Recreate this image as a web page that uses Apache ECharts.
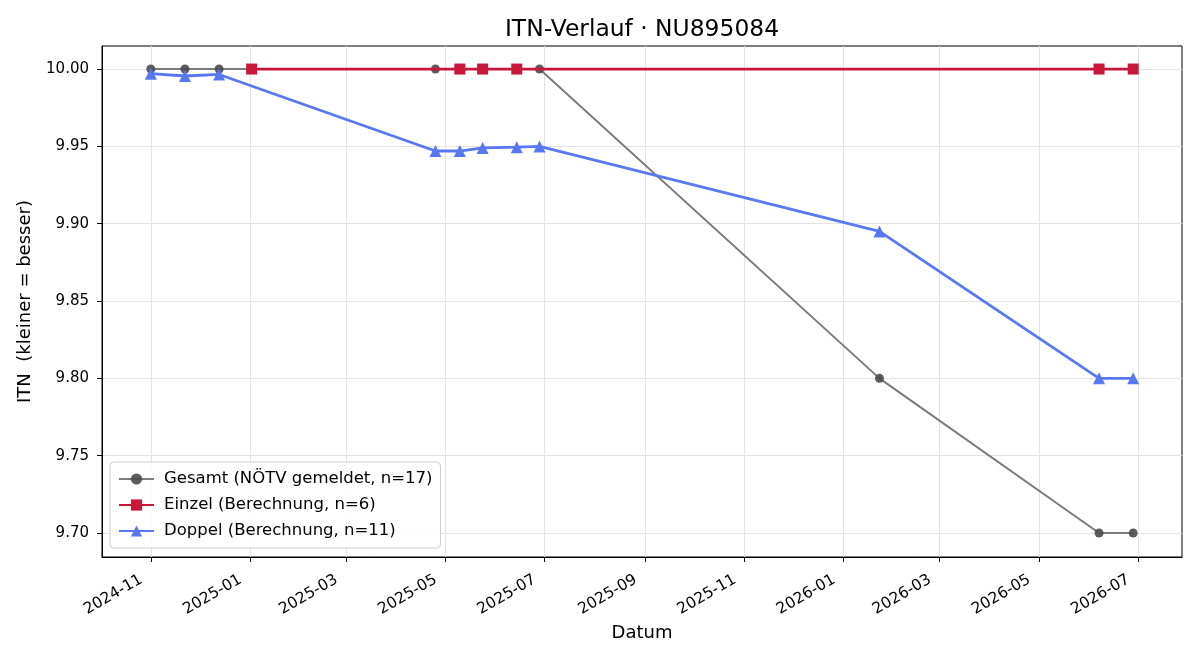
<!DOCTYPE html>
<html>
<head>
<meta charset="utf-8">
<script src="https://cdn.jsdelivr.net/npm/echarts@6/dist/echarts.min.js"></script>
<style>html,body{margin:0;padding:0;background:#fff}#c{width:1200px;height:660px}</style>
</head>
<body>
<div id="c"></div>
<script>
const gesamtDates = ['2024-11-01','2024-11-22','2024-12-13','2025-01-02','2025-04-25','2025-05-10','2025-05-24','2025-06-14','2025-06-28','2026-01-23','2026-06-07','2026-06-28'];
const gesamtValues = [10.00,10.00,10.00,10.00,10.00,10.00,10.00,10.00,10.00,9.80,9.70,9.70];
const einzelDates = ['2025-01-02','2025-05-10','2025-05-24','2025-06-14','2026-06-07','2026-06-28'];
const einzelValues = [10.00,10.00,10.00,10.00,10.00,10.00];
const doppelDates = ['2024-11-01','2024-11-22','2024-12-13','2025-04-25','2025-05-10','2025-05-24','2025-06-14','2025-06-28','2026-01-23','2026-06-07','2026-06-28'];
const doppelValues = [9.997,9.9955,9.9965,9.947,9.947,9.949,9.9495,9.950,9.895,9.800,9.800];
const xTickLabels = ['2024-11','2025-01','2025-03','2025-05','2025-07','2025-09','2025-11','2026-01','2026-03','2026-05','2026-07'];
const yTickLabels = [9.70,9.75,9.80,9.85,9.90,9.95,10.00];
const seriesNames = ['Gesamt (NÖTV gemeldet, n=17)','Einzel (Berechnung, n=6)','Doppel (Berechnung, n=11)'];

const DAY = 86400000;
function ts(s){const p=s.split('-').map(Number);return Date.UTC(p[0],p[1]-1,p[2]||1)/DAY;}
function lab(v){const d=new Date(Math.round(v)*DAY);return d.getUTCFullYear()+'-'+String(d.getUTCMonth()+1).padStart(2,'0');}
const pairs=(d,v)=>d.map((x,i)=>[ts(x),v[i]]);
const xTicks = xTickLabels.map(ts);

const chart = echarts.init(document.getElementById('c'), null, {renderer:'canvas'});
const font = 'DejaVu Sans';
chart.setOption({
  animation:false,
  textStyle:{fontFamily:font},
  title:{text:'ITN-Verlauf · NU895084',left:637,textAlign:'center',top:13,textStyle:{fontFamily:font,fontSize:23.4,fontWeight:'normal',color:'#000'}},
  grid:{left:102,right:18,top:46,bottom:103,show:true,borderColor:'#000',borderWidth:1,backgroundColor:'transparent'},
  legend:{
    orient:'vertical',left:110,top:462,
    backgroundColor:'rgba(255,255,255,0.85)',borderColor:'#cccccc',borderWidth:1,borderRadius:4,
    padding:[8,8,8,8],itemGap:8,itemWidth:35,itemHeight:14,
    textStyle:{fontFamily:font,fontSize:16.5,lineHeight:18,color:'#000',padding:[0,0,0,5]},
    data:seriesNames
  },
  xAxis:{
    type:'value',min:ts('2024-10-02'),max:ts('2026-07-28'),
    name:'Datum',nameLocation:'middle',nameGap:67,nameTextStyle:{fontFamily:font,fontSize:18,color:'#000'},
    axisLine:{show:true,onZero:false,lineStyle:{color:'#000',width:1}},
    axisTick:{show:true,length:5,lineStyle:{color:'#000'},customValues:xTicks},
    axisLabel:{customValues:xTicks,rotate:30,fontFamily:font,fontSize:15.5,color:'#000',margin:16,padding:[0,11,0,0],formatter:lab},
    splitLine:{show:true,lineStyle:{color:'#e3e3e3',width:1}}
  },
  yAxis:{
    type:'value',min:9.6845,max:10.0149,
    name:'ITN  (kleiner = besser)',nameLocation:'middle',nameGap:68,nameTextStyle:{fontFamily:font,fontSize:18,color:'#000'},
    axisLine:{show:true,onZero:false,lineStyle:{color:'#000',width:1}},
    axisTick:{show:true,length:5,lineStyle:{color:'#000'},customValues:yTickLabels},
    axisLabel:{customValues:yTickLabels,fontFamily:font,fontSize:15,color:'#000',margin:13,formatter:v=>v.toFixed(2)},
    splitLine:{show:true,lineStyle:{color:'#e3e3e3',width:1}}
  },
  series:[
    {name:seriesNames[0],type:'line',data:pairs(gesamtDates,gesamtValues),z:2,
      lineStyle:{color:'#7b7b7b',width:2},itemStyle:{color:'#4a4a4a',opacity:0.9},
      symbol:'circle',symbolSize:9,showAllSymbol:true},
    {name:seriesNames[1],type:'line',data:pairs(einzelDates,einzelValues),z:3,
      lineStyle:{color:'#c8173a',width:2.8},itemStyle:{color:'#c8173a'},
      symbol:'rect',symbolSize:11,showAllSymbol:true},
    {name:seriesNames[2],type:'line',data:pairs(doppelDates,doppelValues),z:4,
      lineStyle:{color:'#5a77f2',width:2.8},itemStyle:{color:'#5a77f2'},
      symbol:'triangle',symbolSize:12,showAllSymbol:true}
  ]
});
</script>
</body>
</html>
